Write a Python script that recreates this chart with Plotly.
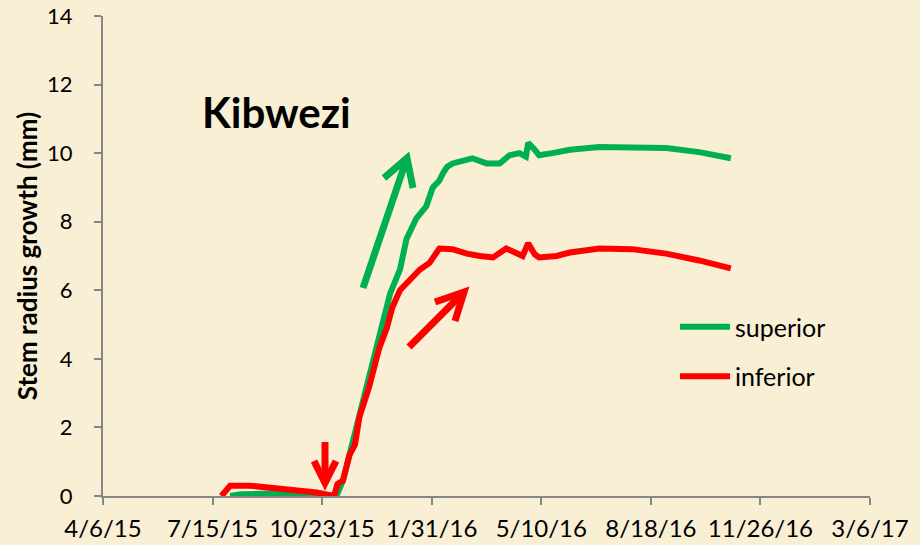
import plotly.graph_objects as go

# ---- data ----
sup_dates = ["2015-07-31", "2015-08-10", "2015-09-17", "2015-10-15", "2015-10-25",
             "2015-11-05", "2015-11-11", "2015-11-17", "2015-11-26", "2015-12-05",
             "2015-12-12", "2015-12-24", "2016-01-02", "2016-01-08", "2016-01-17",
             "2016-01-26", "2016-02-01", "2016-02-07", "2016-02-10", "2016-02-14",
             "2016-02-19", "2016-02-25", "2016-03-08", "2016-03-21", "2016-04-02",
             "2016-04-11", "2016-04-20", "2016-04-26", "2016-04-28", "2016-05-04",
             "2016-05-08", "2016-05-20", "2016-06-05", "2016-07-02", "2016-08-01",
             "2016-09-01", "2016-10-01", "2016-10-30"]
sup_vals = [0.0, 0.05, 0.08, 0.02, 0.0,
            0.0, 0.45, 1.2, 2.4, 3.5,
            4.3, 5.9, 6.6, 7.5, 8.1,
            8.45, 9.0, 9.2, 9.4, 9.6,
            9.7, 9.74, 9.85, 9.7, 9.7,
            9.94, 10.0, 9.9, 10.3, 10.1,
            9.94, 10.0, 10.1, 10.18, 10.18,
            10.15, 10.03, 9.85]

inf_dates = ["2015-07-23", "2015-07-31", "2015-08-18", "2015-09-17", "2015-10-18",
             "2015-10-30", "2015-11-03", "2015-11-06", "2015-11-11", "2015-11-17",
             "2015-11-22", "2015-11-26", "2015-12-05", "2015-12-14", "2015-12-21",
             "2015-12-26", "2016-01-02", "2016-01-11", "2016-01-20", "2016-01-29",
             "2016-02-04", "2016-02-07", "2016-02-19", "2016-03-03", "2016-03-15",
             "2016-03-27", "2016-04-08", "2016-04-17", "2016-04-23", "2016-04-28",
             "2016-05-04", "2016-05-08", "2016-05-24", "2016-06-05", "2016-07-02",
             "2016-08-01", "2016-09-01", "2016-10-01", "2016-10-30"]
inf_vals = [0.0, 0.3, 0.3, 0.22, 0.1,
            0.02, 0.02, 0.35, 0.45, 1.2,
            1.5, 2.3, 3.2, 4.3, 4.9,
            5.5, 6.0, 6.3, 6.6, 6.8,
            7.1, 7.22, 7.2, 7.07, 7.0,
            6.96, 7.22, 7.1, 7.0, 7.37,
            7.05, 6.96, 7.0, 7.1, 7.22,
            7.2, 7.07, 6.87, 6.64]

series_names = ["superior", "inferior"]
series_colors = ["#00B050", "#FF0000"]
x_range = ["2015-04-06", "2017-03-06"]
y_range = [0, 14]
chart_title = "Kibwezi"
y_title = "Stem radius growth (mm)"

BG = "#F9EFD5"
FONT = "Lato, Carlito, 'Liberation Sans', sans-serif"
AXIS_COL = "#868686"

fig = go.Figure()
for name, xs, ys, col, grp in [
    (series_names[0], sup_dates, sup_vals, series_colors[0], "g1"),
    (series_names[1], inf_dates, inf_vals, series_colors[1], "g2"),
]:
    fig.add_trace(go.Scatter(x=xs, y=ys, mode="lines", name=name,
                             legendgroup=grp,
                             line=dict(color=col, width=6, shape="linear")))

# target plot area on screen (pixels); page body margin is removed below
W, H = 920, 545
L, R, T, B = 103, 870, 16, 496
def px(x):
    return (x - L) / (R - L)
def py(y):
    return (B - y) / (B - T)

def arrow(tail, tip, w1, w2, color, width=7):
    return [
        dict(type="line", xref="paper", yref="paper",
             x0=px(tail[0]), y0=py(tail[1]), x1=px(tip[0]), y1=py(tip[1]),
             line=dict(color=color, width=width)),
        dict(type="path", xref="paper", yref="paper",
             path=f"M {px(w1[0])} {py(w1[1])} L {px(tip[0])} {py(tip[1])} L {px(w2[0])} {py(w2[1])}",
             line=dict(color=color, width=width)),
    ]

shapes = []
shapes += arrow((363, 288), (407, 158), (384, 178), (413, 188), series_colors[0])
shapes += arrow((409, 347), (464, 292), (435, 302), (455, 321), series_colors[1])
shapes += arrow((325, 442), (325, 483), (314, 461), (336, 461), series_colors[1])

fig.update_layout(
    width=W, height=H,
    margin=dict(l=L, r=W - R, t=T, b=H - B, autoexpand=False),
    paper_bgcolor=BG, plot_bgcolor=BG,
    font=dict(family=FONT, color="#000000", size=24),
    showlegend=True,
    legend=dict(x=px(675), y=py(304), xanchor="left", yanchor="top",
                bgcolor="rgba(0,0,0,0)", font=dict(size=25, family=FONT),
                tracegroupgap=14, traceorder="grouped", itemwidth=50),
    shapes=shapes,
    annotations=[dict(text=f"<b>{chart_title}</b>", xref="paper", yref="paper",
                      x=px(276), y=py(112), xanchor="center", yanchor="middle",
                      showarrow=False,
                      font=dict(size=42, family=FONT, color="#000000"))],
    xaxis=dict(type="date", range=x_range, tick0=x_range[0], dtick=100 * 86400000,
               tickformat="%-m/%-d/%y", showgrid=False, zeroline=False,
               showline=True, linecolor=AXIS_COL, linewidth=2, automargin=False,
               ticks="outside", ticklen=7, tickwidth=2, tickcolor=AXIS_COL,
               ticklabelstandoff=3, ticklabeloverflow="allow",
               tickfont=dict(size=24, family=FONT)),
    yaxis=dict(range=y_range, dtick=2, showgrid=False, zeroline=False,
               showline=True, linecolor=AXIS_COL, linewidth=2, automargin=False,
               ticks="outside", ticklen=7, tickwidth=2, tickcolor=AXIS_COL,
               ticklabelstandoff=17, ticklabeloverflow="allow",
               tickfont=dict(size=22, family=FONT),
               title=dict(text=f"<b>{y_title}</b>", font=dict(size=26, family=FONT),
                          standoff=2)),
)

fig.write_html("out.html",
               config={"displayModeBar": False},
               post_script="document.body.style.margin='0px';"
                           "document.body.style.background='" + BG + "';")
